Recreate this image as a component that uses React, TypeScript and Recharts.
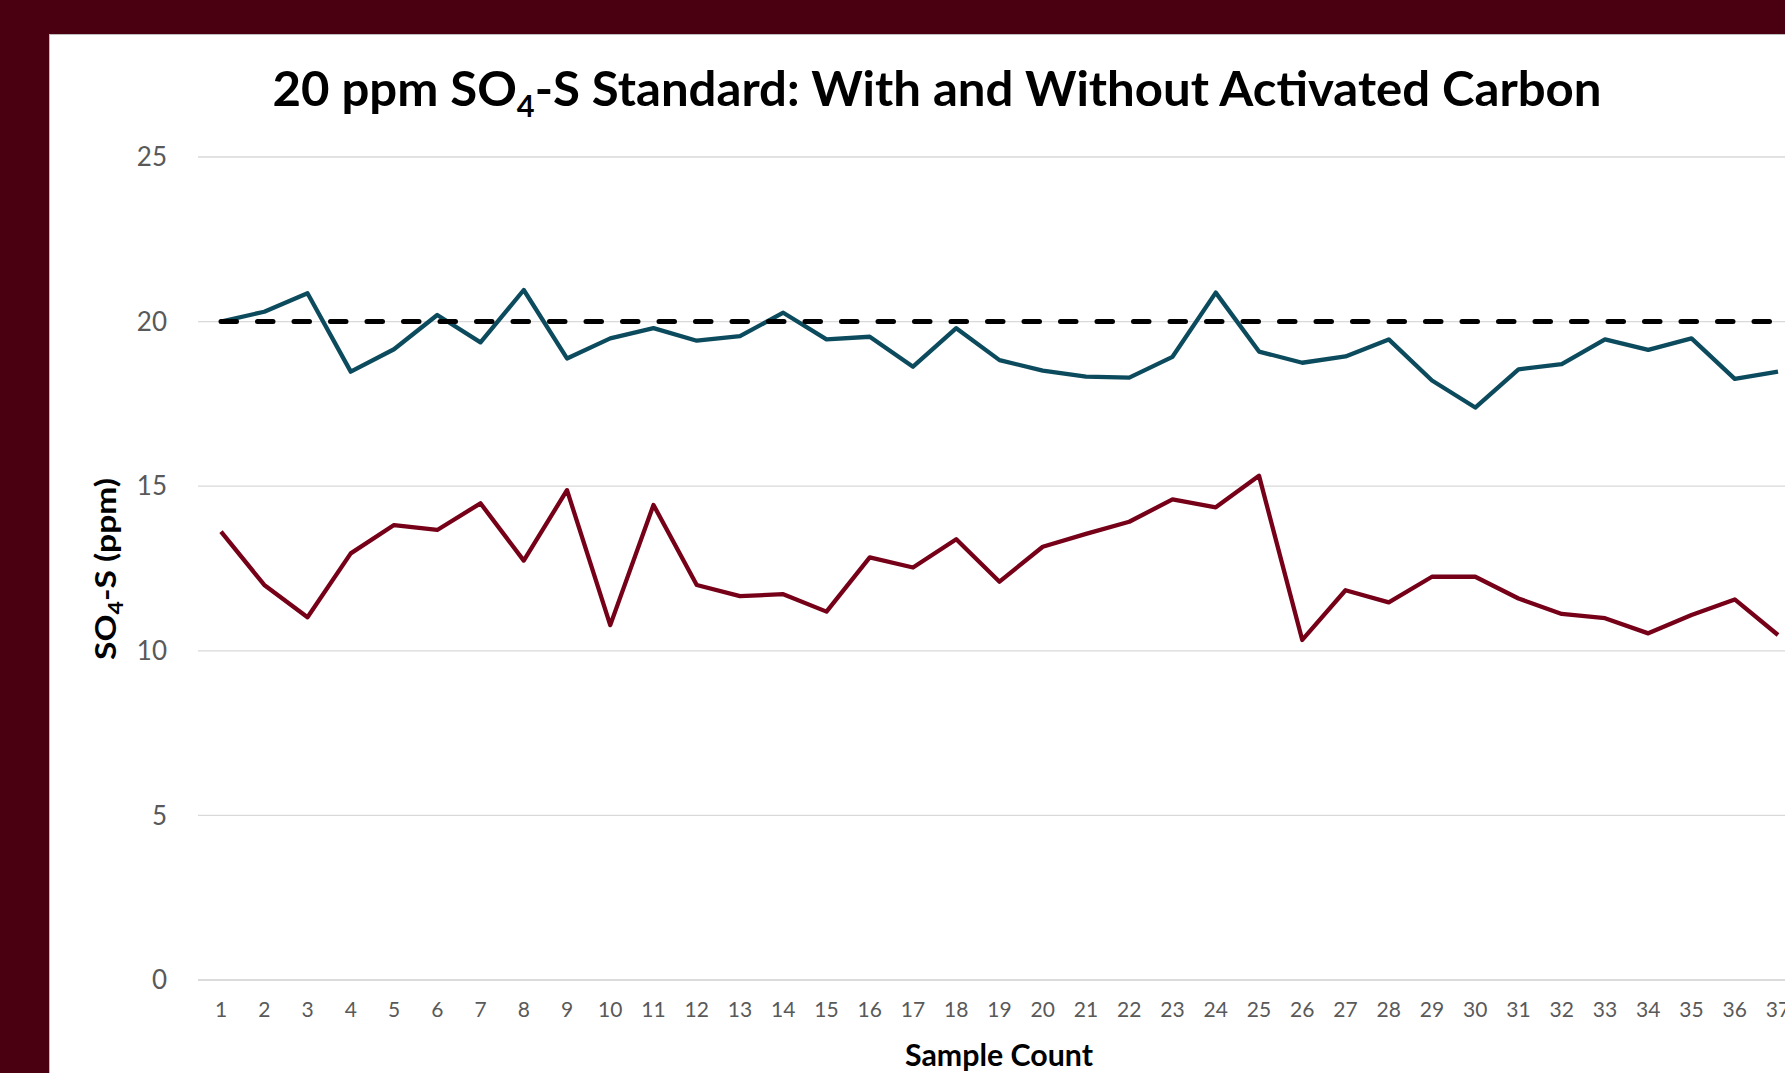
import { LineChart, Line, XAxis, YAxis, CartesianGrid } from 'recharts';

// sample numbers along the x axis
const samples = [
    '1', '2', '3', '4', '5', '6', '7', '8', '9', '10', '11', '12', '13', '14', '15', '16', '17', '18', '19',
    '20', '21', '22', '23', '24', '25', '26', '27', '28', '29', '30', '31', '32', '33', '34', '35', '36', '37',
];

// without activated carbon (teal)
const withoutCarbon = [
    20.0, 20.3, 20.86, 18.48, 19.16, 20.2, 19.37, 20.96, 18.88, 19.49, 19.8, 19.42, 19.56, 20.27, 19.46, 19.54,
    18.63, 19.8, 18.83, 18.51, 18.33, 18.3, 18.93, 20.88, 19.09, 18.75, 18.94, 19.46, 18.21, 17.39, 18.55, 18.71,
    19.46, 19.14, 19.49, 18.26, 18.48,
];

// with activated carbon (maroon)
const withCarbon = [
    13.62, 12.0, 11.02, 12.96, 13.82, 13.67, 14.48, 12.74, 14.88, 10.78, 14.43, 12.0, 11.66, 11.72, 11.19, 12.84,
    12.53, 13.39, 12.1, 13.16, 13.55, 13.92, 14.6, 14.36, 15.32, 10.33, 11.84, 11.47, 12.25, 12.25, 11.59, 11.12,
    10.99, 10.53, 11.09, 11.56, 10.48,
];

// 20 ppm standard value
const standard = [
    20, 20, 20, 20, 20, 20, 20, 20, 20, 20, 20, 20, 20, 20, 20, 20, 20, 20, 20, 20, 20, 20, 20, 20, 20, 20, 20, 20,
    20, 20, 20, 20, 20, 20, 20, 20, 20,
];

const yTicks = [0, 5, 10, 15, 20, 25];

const FONT = "Lato, 'Open Sans', sans-serif";

export default function App() {
    const data = samples.map((s, i) => ({
        sample: s,
        without: withoutCarbon[i],
        with: withCarbon[i],
        standard: standard[i],
    }));

    return (
        <div
            style={{
                position: 'fixed',
                left: 0,
                top: 0,
                width: 1785,
                height: 1073,
                overflow: 'hidden',
                background: '#4a0010',
                fontFamily: FONT,
            }}
        >
            {/* white chart panel */}
            <div
                style={{
                    position: 'absolute',
                    left: 49,
                    top: 34,
                    width: 1760,
                    height: 1060,
                    background: '#ffffff',
                    borderLeft: '1px solid #bcbcbc',
                    borderTop: '1px solid #bcbcbc',
                }}
            />
            <div style={{ position: 'absolute', left: 0, top: 0 }}>
                <LineChart width={1830} height={1073} data={data} margin={{ top: 157, right: 0, bottom: 33, left: 0 }}>
                    <CartesianGrid horizontal vertical={false} stroke="#d9d9d9" strokeWidth={1.3} />
                    <XAxis
                        dataKey="sample"
                        interval={0}
                        height={60}
                        padding={{ left: 23, right: 52 }}
                        tickLine={false}
                        tickSize={0}
                        tickMargin={22}
                        axisLine={{ stroke: '#d9d9d9', strokeWidth: 1.5 }}
                        tick={{ fill: '#595959', fontSize: 21, fontFamily: FONT }}
                    />
                    <YAxis
                        width={198}
                        domain={[0, 25]}
                        ticks={yTicks}
                        axisLine={false}
                        tickLine={false}
                        tickSize={0}
                        tickMargin={31}
                        tick={{ fill: '#595959', fontSize: 26, fontFamily: FONT }}
                    />
                    <Line
                        type="linear"
                        dataKey="with"
                        stroke="#750018"
                        strokeWidth={4.3}
                        strokeLinejoin="round"
                        dot={false}
                        isAnimationActive={false}
                    />
                    <Line
                        type="linear"
                        dataKey="without"
                        stroke="#0c4b5d"
                        strokeWidth={4.3}
                        strokeLinejoin="round"
                        dot={false}
                        isAnimationActive={false}
                    />
                    <Line
                        type="linear"
                        dataKey="standard"
                        stroke="#000000"
                        strokeWidth={5}
                        strokeDasharray="15.5 21"
                        strokeLinecap="round"
                        dot={false}
                        isAnimationActive={false}
                    />
                </LineChart>
            </div>
            {/* titles */}
            <svg
                width={1785}
                height={1073}
                style={{ position: 'absolute', left: 0, top: 0, pointerEvents: 'none' }}
            >
                <text
                    x={937}
                    y={106}
                    textAnchor="middle"
                    fontFamily={FONT}
                    fontWeight={700}
                    fontSize={48}
                    fill="#000"
                    textLength={1329}
                    lengthAdjust="spacingAndGlyphs"
                >
                    20 ppm SO
                    <tspan fontSize={30} dy={11}>4</tspan>
                    <tspan dy={-11}>-S Standard: With and Without Activated Carbon</tspan>
                </text>
                <text
                    transform="translate(116,569) rotate(-90)"
                    textAnchor="middle"
                    fontFamily={FONT}
                    fontWeight={700}
                    fontSize={29}
                    fill="#000"
                    textLength={182}
                    lengthAdjust="spacingAndGlyphs"
                >
                    SO
                    <tspan fontSize={20} dy={7}>4</tspan>
                    <tspan dy={-7}>-S (ppm)</tspan>
                </text>
                <text
                    x={999}
                    y={1066}
                    textAnchor="middle"
                    fontFamily={FONT}
                    fontWeight={700}
                    fontSize={30}
                    fill="#000"
                    textLength={188}
                    lengthAdjust="spacingAndGlyphs"
                >
                    Sample Count
                </text>
            </svg>
        </div>
    );
}
